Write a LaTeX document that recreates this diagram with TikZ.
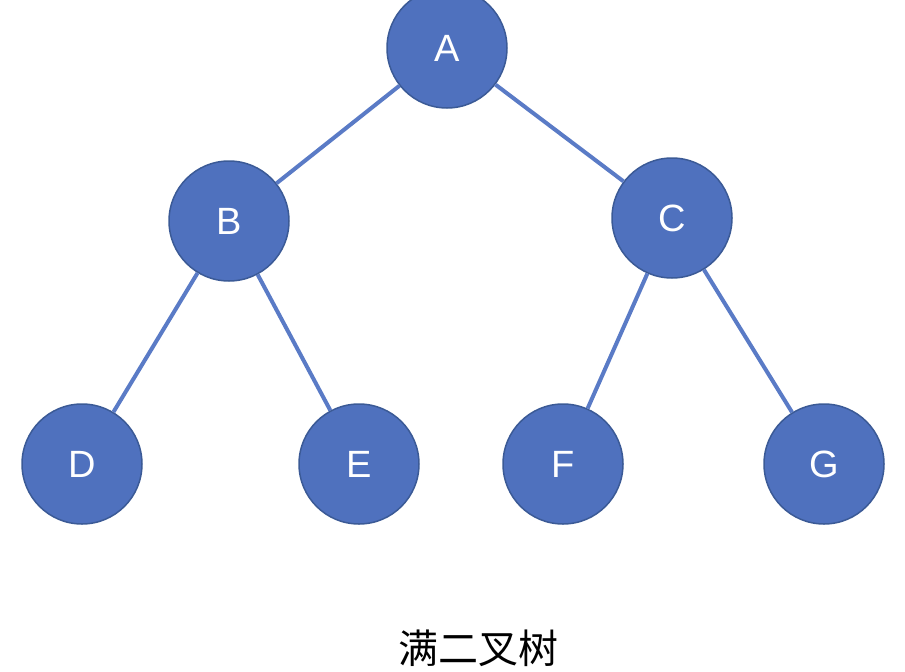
\documentclass[tikz,border=0pt]{standalone}
\usepackage{fontspec}
\setmainfont{Liberation Sans}
\newfontfamily\cjk{Noto Sans CJK SC}
\definecolor{nodefill}{HTML}{4F71BE}
\definecolor{nodeedge}{HTML}{3B5A96}
\definecolor{edgecol}{HTML}{5A7BC6}
\begin{document}
\begin{tikzpicture}[x=1pt,y=-1pt,
  tn/.style={circle,minimum size=120pt,inner sep=0pt,fill=nodefill,draw=nodeedge,line width=1.5pt,text=white,font=\fontsize{38}{40}\selectfont},
  tedge/.style={draw=edgecol,line width=4pt}]
\useasboundingbox (0,0) rectangle (905,672);
\node[tn] (A) at (447,48) {A};
\node[tn] (B) at (229,221) {B};
\node[tn] (C) at (672,218) {C};
\node[tn] (D) at (82,464) {D};
\node[tn] (E) at (359,464) {E};
\node[tn] (F) at (563,464) {F};
\node[tn] (G) at (824,464) {G};
\begin{scope}[on background layer/.style={}]
\end{scope}
\path[tedge] (A) -- (B);
\path[tedge] (A) -- (C);
\path[tedge] (B) -- (D);
\path[tedge] (B) -- (E);
\path[tedge] (C) -- (F);
\path[tedge] (C) -- (G);
\node (title) at (478,648) {\cjk\fontsize{40}{44}\selectfont 满二叉树};
\end{tikzpicture}
\end{document}
